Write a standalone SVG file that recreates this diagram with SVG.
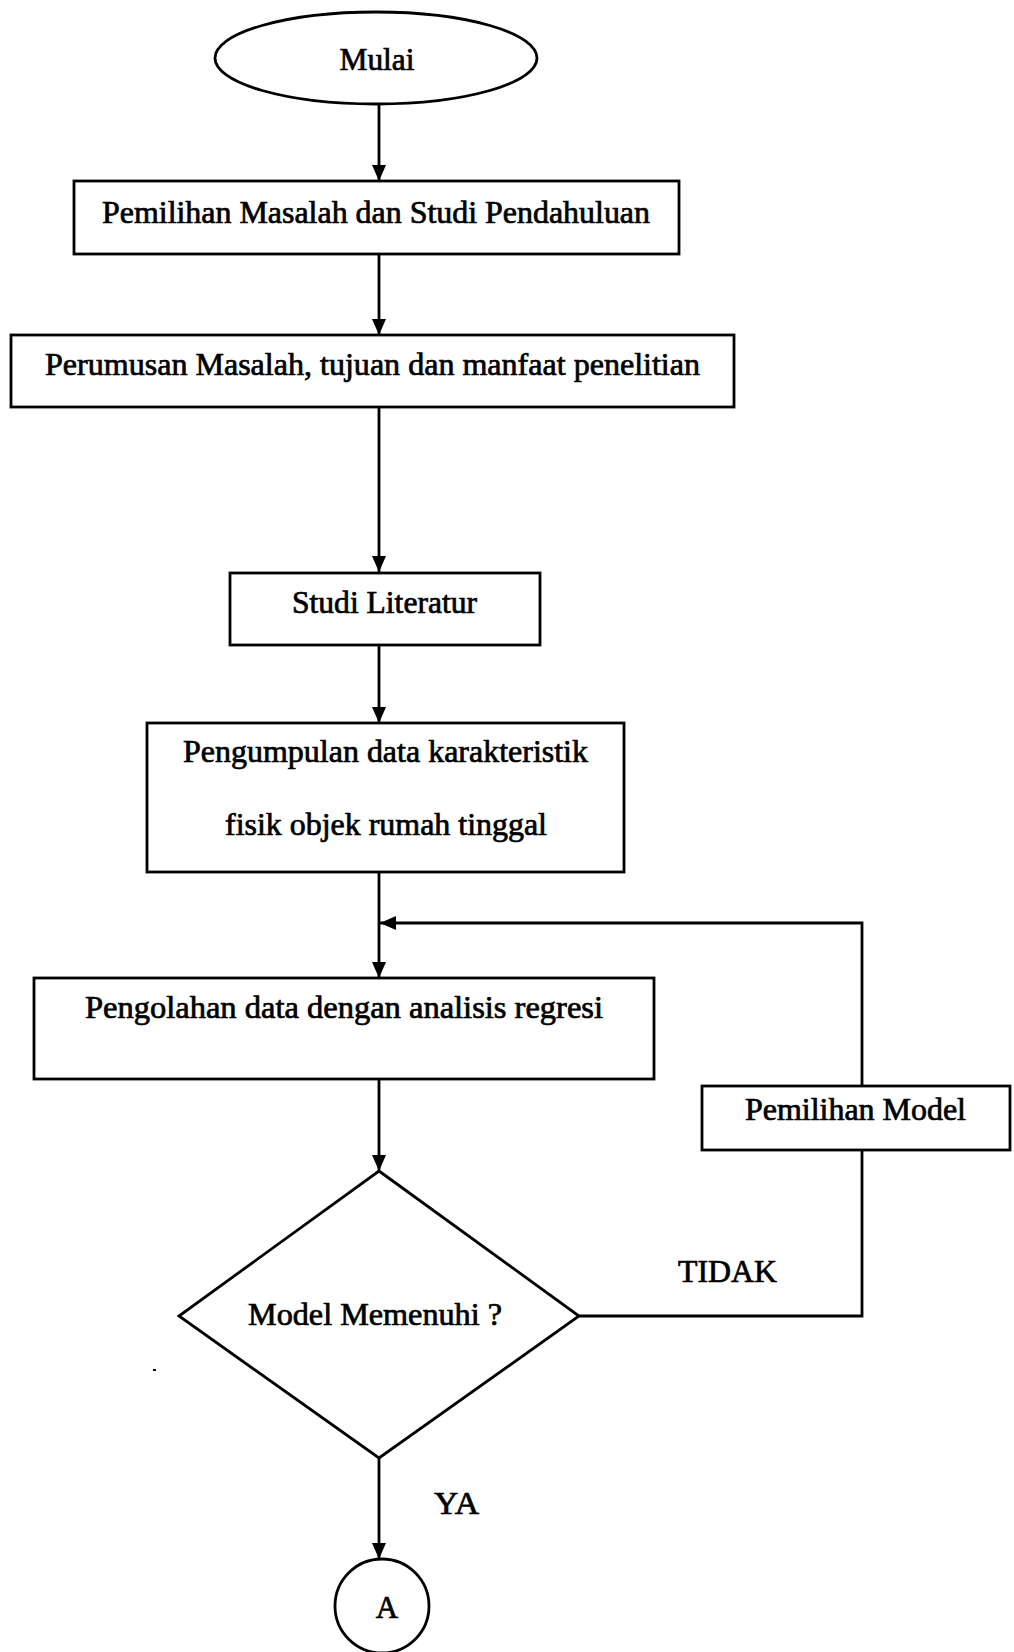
<svg xmlns="http://www.w3.org/2000/svg" width="1014" height="1652" viewBox="0 0 1014 1652">
<style>
.shape{fill:#fff;stroke:#000;stroke-width:2.8}
.conn{fill:none;stroke:#000;stroke-width:2.8}
text{font-family:"Liberation Serif","Times New Roman",serif;font-size:31px;fill:#000;stroke:#000;stroke-width:0.7}
</style>
<defs>
<marker id="arr" viewBox="0 0 16 14" refX="16" refY="7" markerWidth="16" markerHeight="14" markerUnits="userSpaceOnUse" orient="auto">
<path d="M0,0 L16,7 L0,14 z" fill="#000"/>
</marker>
</defs>
<rect width="1014" height="1652" fill="#fff"/>
<g id="connectors">
<path class="conn" d="M379,105 V181" marker-end="url(#arr)"/>
<path class="conn" d="M379,254 V335" marker-end="url(#arr)"/>
<path class="conn" d="M379,407 V572" marker-end="url(#arr)"/>
<path class="conn" d="M379,645 V723" marker-end="url(#arr)"/>
<path class="conn" d="M379,872 V978" marker-end="url(#arr)"/>
<path class="conn" d="M862,1086 V923 H380" marker-end="url(#arr)"/>
<path class="conn" d="M379,1079 V1171" marker-end="url(#arr)"/>
<path class="conn" d="M579,1316 H862 V1150"/>
<path class="conn" d="M379,1458 V1559" marker-end="url(#arr)"/>
</g>
<g id="mulai">
<ellipse class="shape" cx="376" cy="58" rx="161" ry="46"/>
<text x="377" y="70" text-anchor="middle" textLength="75" lengthAdjust="spacingAndGlyphs">Mulai</text>
</g>
<g id="pemilihan-masalah">
<rect class="shape" x="74" y="181" width="605" height="73"/>
<text x="102" y="223" textLength="548" lengthAdjust="spacingAndGlyphs">Pemilihan Masalah dan Studi Pendahuluan</text>
</g>
<g id="perumusan">
<rect class="shape" x="11" y="335" width="723" height="72"/>
<text x="45" y="375" textLength="655" lengthAdjust="spacingAndGlyphs">Perumusan Masalah, tujuan dan manfaat penelitian</text>
</g>
<g id="studi-literatur">
<rect class="shape" x="230" y="573" width="310" height="72"/>
<text x="292" y="613" textLength="185" lengthAdjust="spacingAndGlyphs">Studi Literatur</text>
</g>
<g id="pengumpulan">
<rect class="shape" x="147" y="723" width="477" height="149"/>
<text x="183" y="762" textLength="405" lengthAdjust="spacingAndGlyphs">Pengumpulan data karakteristik</text>
<text x="225" y="835" textLength="322" lengthAdjust="spacingAndGlyphs">fisik objek rumah tinggal</text>
</g>
<g id="pengolahan">
<rect class="shape" x="34" y="978" width="620" height="101"/>
<text x="85" y="1018" textLength="518" lengthAdjust="spacingAndGlyphs">Pengolahan data dengan analisis  regresi</text>
</g>
<g id="pemilihan-model">
<rect class="shape" x="702" y="1086" width="308" height="64"/>
<text x="745" y="1120" textLength="221" lengthAdjust="spacingAndGlyphs">Pemilihan Model</text>
</g>
<g id="model-memenuhi">
<polygon class="shape" points="379,1171 579,1316 379,1458 179,1316"/>
<text x="248" y="1325" textLength="254" lengthAdjust="spacingAndGlyphs">Model Memenuhi ?</text>
</g>
<g id="label-tidak">
<text x="678" y="1282" textLength="99" lengthAdjust="spacingAndGlyphs">TIDAK</text>
</g>
<g id="label-ya">
<text x="434" y="1514" textLength="45" lengthAdjust="spacingAndGlyphs">YA</text>
</g>
<g id="connector-a">
<circle class="shape" cx="382" cy="1606" r="47"/>
<text x="387" y="1618" text-anchor="middle" font-size="28">A</text>
</g>
<rect x="153" y="1369" width="3" height="2" fill="#000"/>
</svg>
